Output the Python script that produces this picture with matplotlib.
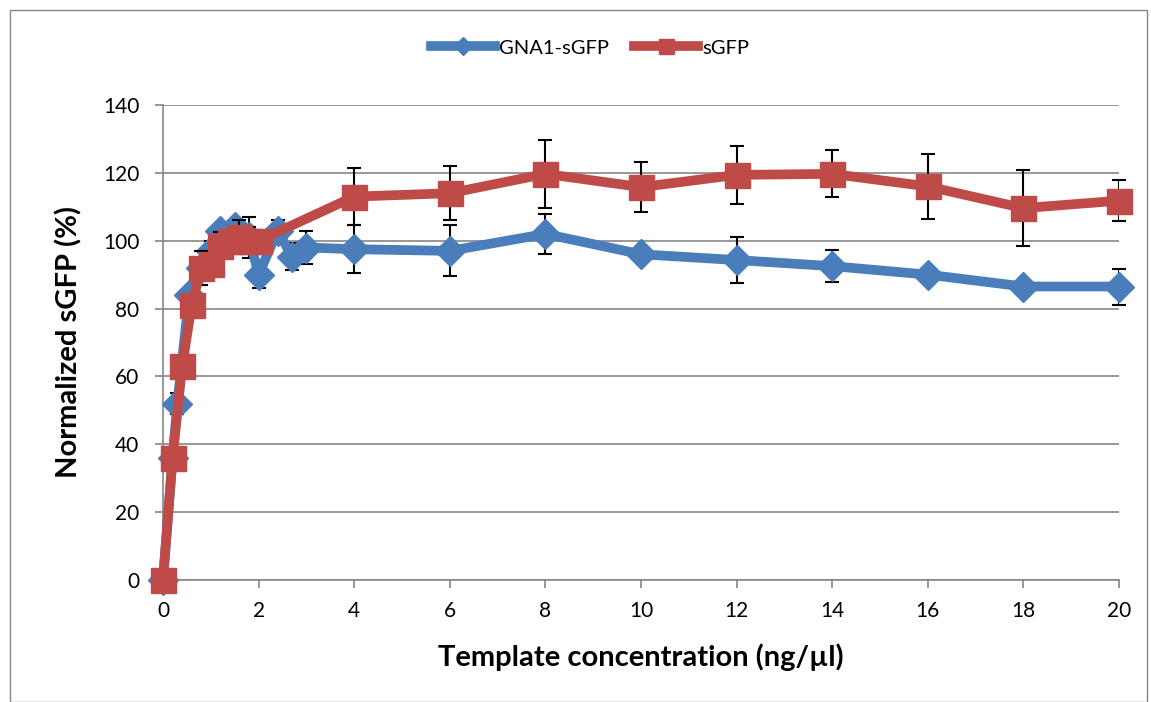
import matplotlib
matplotlib.use("Agg")
from matplotlib import pyplot as plt
from matplotlib.patches import Rectangle

# GNA1-sGFP series
gna1_x = [0, 0.2, 0.3, 0.55, 0.8, 1.0, 1.2, 1.5, 1.8, 2.0, 2.4, 2.7, 3, 4, 6, 8, 10, 12, 14, 16, 18, 20]
gna1_y = [0, 36, 52, 84, 92, 97, 103, 104, 101, 90, 103, 95.3, 98, 97.5, 97, 102, 96, 94.3, 92.5, 90, 86.5, 86.5]
gna1_err = [0, 2, 3, 2, 5, 3, 2, 2, 6, 4, 3, 4, 4.8, 7, 7.5, 5.8, 0, 6.8, 4.7, 0, 0, 5.3]

# sGFP series
sgfp_x = [0, 0.2, 0.4, 0.6, 0.8, 1.0, 1.2, 1.4, 1.6, 1.8, 2.0, 4, 6, 8, 10, 12, 14, 16, 18, 20]
sgfp_y = [0, 36, 63, 81, 92, 93, 98.5, 100, 101, 100, 100, 113, 114, 119.7, 115.8, 119.4, 119.7, 116, 109.6, 111.8]
sgfp_err = [0, 2, 2, 2, 5, 3, 4, 3, 5, 4, 3, 8.5, 8, 10, 7.3, 8.6, 6.9, 9.7, 11.3, 6]

BLUE = "#4A7EBB"
RED = "#BE4B48"

plt.rcParams["font.family"] = ["Lato", "DejaVu Sans"]

fig = plt.figure(figsize=(11.51, 7.02), dpi=100)
ax = fig.add_axes([163 / 1151, 1 - 580 / 702, (1119 - 163) / 1151, (580 - 105) / 702])

ax.errorbar(gna1_x, gna1_y, yerr=gna1_err, fmt="none", ecolor="black", elinewidth=1.5,
            capsize=5, capthick=1.5, zorder=2)
ax.plot(gna1_x, gna1_y, color=BLUE, linewidth=7, marker="D", markersize=15.5,
        label="GNA1-sGFP", zorder=3)
ax.errorbar(sgfp_x, sgfp_y, yerr=sgfp_err, fmt="none", ecolor="black", elinewidth=1.5,
            capsize=5, capthick=1.5, zorder=4)
ax.plot(sgfp_x, sgfp_y, color=RED, linewidth=7, marker="s", markersize=18,
        label="sGFP", zorder=5)

ax.set_xlim(0, 20)
ax.set_ylim(0, 140)
ax.set_xticks(range(0, 21, 2))
ax.set_yticks(range(0, 141, 20))
ax.tick_params(axis="both", labelsize=15, color="#868686", length=6, width=1.2, direction="out")
ax.tick_params(axis="x", pad=9)
ax.tick_params(axis="y", pad=11)
ax.grid(axis="y", color="#868686", linewidth=1.2)
ax.set_axisbelow(True)
for side in ("top", "right"):
    ax.spines[side].set_visible(False)
for side in ("left", "bottom"):
    ax.spines[side].set_color("#868686")
    ax.spines[side].set_linewidth(1.2)
for line in ax.get_lines():
    line.set_clip_on(False)

ax.set_xlabel("Template concentration (ng/µl)", fontsize=21, fontweight="bold", labelpad=16)
ax.set_ylabel("Normalized sGFP (%)", fontsize=21, fontweight="bold", labelpad=15)

fig.legend(loc="center", bbox_to_anchor=(590 / 1151, 1 - 48 / 702), ncol=2, frameon=False,
           fontsize=14.5, handlelength=3.2, columnspacing=1.2, handletextpad=0.2, markerscale=0.6)

fig.patches.append(Rectangle((10 / 1151, 0), 1 - 14 / 1151, 1 - 10 / 702, transform=fig.transFigure,
                             fill=False, edgecolor="#868686", linewidth=1))

fig.savefig("out.png", dpi=100)
